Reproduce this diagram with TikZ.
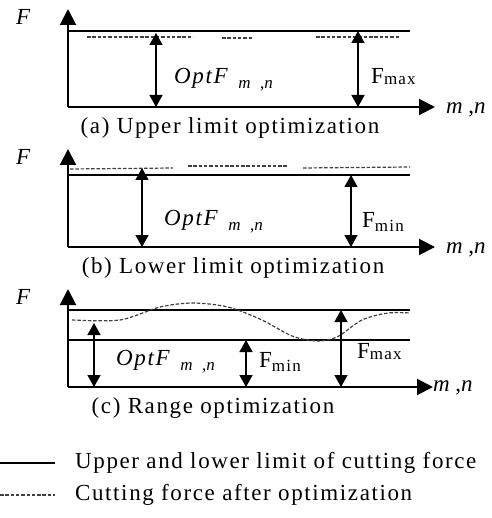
\documentclass[tikz,border=0pt]{standalone}
\usepackage{fontspec}
\setmainfont[LetterSpace=7]{Liberation Serif}
\usetikzlibrary{arrows.meta}
\newcommand{\lowsub}[2][3pt]{\raisebox{-#1}{\fontsize{17}{17}\selectfont #2}}
\tikzset{
  ax/.style   ={draw=black, line width=2pt, -{Triangle[length=16pt,width=16pt]}},
  lim/.style  ={draw=black, line width=1.4pt},
  opt/.style  ={draw=black!75, line width=1.2pt, dash pattern=on 3.5pt off 1.8pt},
  dim/.style  ={draw=black, line width=1.4pt, {Triangle[length=12pt,width=13pt]}-{Triangle[length=12pt,width=13pt]}},
  lab/.style  ={font=\fontsize{23}{25}\selectfont, inner sep=1pt},
  capt/.style ={font=\fontsize{23}{25}\selectfont, inner sep=1pt},
}
\begin{document}
\begin{tikzpicture}[x=1pt,y=-1pt]
  \useasboundingbox (0,0) rectangle (491,518);
  % (a) upper limit
  \coordinate (a0) at (68,107);
  \coordinate (ay) at (68,9);
  \coordinate (ax) at (435,107);
  \draw[ax] (a0) -- (ay);
  \draw[ax] (a0) -- (ax);
  \draw[lim] (68,31) -- (410,31);
  \draw[opt] (87,37) -- (193,37);
  \draw[opt] (222,38) -- (252,38);
  \draw[opt] (316,37) -- (400,37);
  \coordinate (a1t) at (156,33);
  \coordinate (a1b) at (156,107);
  \coordinate (a2t) at (358,31);
  \coordinate (a2b) at (358,107);
  \draw[dim] (a1t) -- (a1b);
  \draw[dim] (a2t) -- (a2b);
  \node[lab] (Fa) at (24,17) {\textit{F}};
  \node[lab,anchor=west] (mna) at (445,110) {\textit{m}\,,\textit{n}};
  \node[lab,anchor=west] (optA) at (173,80) {\textit{OptF}\hspace{9pt}\lowsub[5pt]{\textit{m}\, ,\textit{n}}};
  \node[lab,anchor=west] (fmaxA) at (370,77) {F\lowsub[1pt]{max}};
  \node[capt] (capa) at (230,128) {(a) Upper limit optimization};
  % (b) lower limit
  \coordinate (b0) at (68,247);
  \coordinate (by) at (68,149);
  \coordinate (bx) at (435,247);
  \draw[ax] (b0) -- (by);
  \draw[ax] (b0) -- (bx);
  \draw[lim] (68,175) -- (410,175);
  \draw[opt] (70,169) -- (173,168);
  \draw[opt] (188,166) -- (287,166);
  \draw[opt] (303,168) -- (410,167);
  \coordinate (b1t) at (142,168);
  \coordinate (b1b) at (142,247);
  \coordinate (b2t) at (351,175);
  \coordinate (b2b) at (351,247);
  \draw[dim] (b1t) -- (b1b);
  \draw[dim] (b2t) -- (b2b);
  \node[lab] (Fb) at (24,157) {\textit{F}};
  \node[lab,anchor=west] (mnb) at (445,250) {\textit{m}\,,\textit{n}};
  \node[lab,anchor=west] (optB) at (163,222) {\textit{OptF}\hspace{9pt}\lowsub[5pt]{\textit{m}\, ,\textit{n}}};
  \node[lab,anchor=west] (fminB) at (361,222) {F\lowsub[4pt]{min}};
  \node[capt] (capb) at (233,268) {(b) Lower limit optimization};
  % (c) range
  \coordinate (c0) at (68,387);
  \coordinate (cy) at (68,289);
  \coordinate (cx) at (433,387);
  \draw[ax] (c0) -- (cy);
  \draw[ax] (c0) -- (cx);
  \draw[lim] (68,310) -- (410,310);
  \draw[lim] (68,340) -- (410,340);
  \draw[opt] plot[smooth] coordinates {(72,320) (120,320) (160,307) (193,303) (228,307) (262,320) (292,336) (317,341) (337,337) (362,320) (388,313) (410,313)};
  \coordinate (c1t) at (94,323);
  \coordinate (c1b) at (94,387);
  \coordinate (c2t) at (246,340);
  \coordinate (c2b) at (246,387);
  \coordinate (c3t) at (341,310);
  \coordinate (c3b) at (341,387);
  \draw[dim] (c1t) -- (c1b);
  \draw[dim] (c2t) -- (c2b);
  \draw[dim] (c3t) -- (c3b);
  \node[lab] (Fc) at (24,297) {\textit{F}};
  \node[lab,anchor=west] (mnc) at (432,388) {\textit{m}\,,\textit{n}};
  \node[lab,anchor=west] (optC) at (115,362) {\textit{OptF}\hspace{9pt}\lowsub[5pt]{\textit{m}\, ,\textit{n}}};
  \node[lab,anchor=west] (fminC) at (258,362) {F\lowsub[4pt]{min}};
  \node[lab,anchor=west] (fmaxC) at (356,352) {F\lowsub[1pt]{max}};
  \node[capt] (capc) at (213,408) {(c) Range optimization};
  % legend
  \coordinate (l1a) at (0,463);
  \coordinate (l1b) at (55,463);
  \coordinate (l2a) at (0,495);
  \coordinate (l2b) at (55,495);
  \draw[lim] (l1a) -- (l1b);
  \draw[opt] (l2a) -- (l2b);
  \node[capt,anchor=west] (leglim) at (74,463) {Upper and lower limit of cutting force};
  \node[capt,anchor=west] (legopt) at (74,495) {Cutting force after optimization};
\end{tikzpicture}
\end{document}
